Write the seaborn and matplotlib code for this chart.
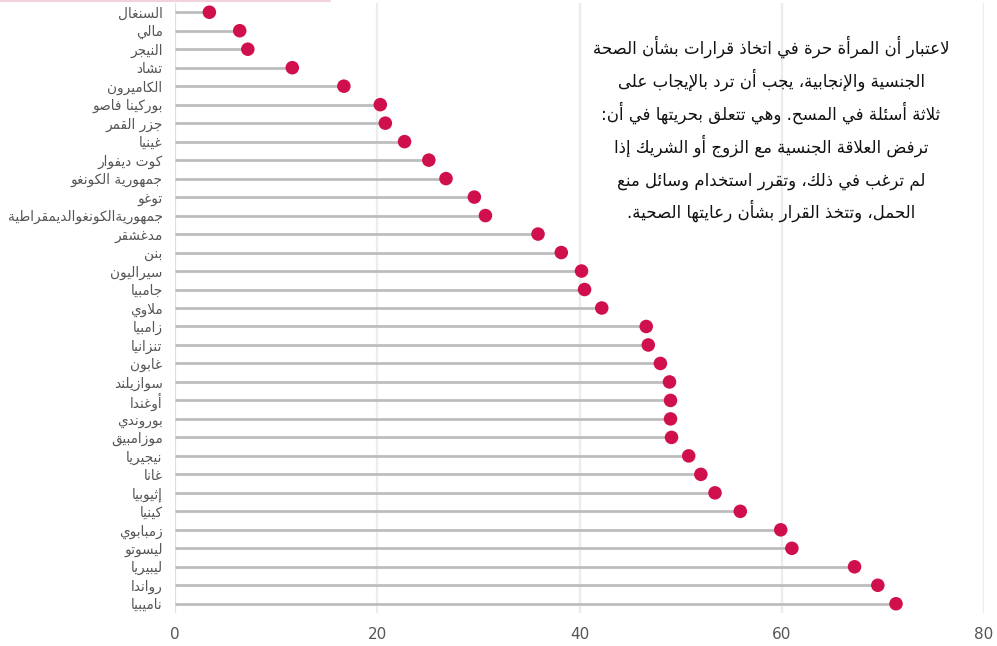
import matplotlib
matplotlib.use("Agg")
import matplotlib.pyplot as plt
from matplotlib.lines import Line2D
import seaborn as sns
import pandas as pd

# Data (percent of women who decide freely)
countries = [
    "السنغال", "مالي", "النيجر", "تشاد", "الكاميرون", "بوركينا فاصو",
    "جزر القمر", "غينيا", "كوت ديفوار", "جمهورية الكونغو", "توغو",
    "جمهوريةالكونغوالديمقراطية", "مدغشقر", "بنن", "سيراليون", "جامبيا",
    "ملاوي", "زامبيا", "تنزانيا", "غابون", "سوازيلند", "أوغندا", "بوروندي",
    "موزامبيق", "نيجيريا", "غانا", "إثيوبيا", "كينيا", "زمبابوي", "ليسوتو",
    "ليبيريا", "رواندا", "ناميبيا",
]
values = [
    3.4, 6.4, 7.2, 11.6, 16.7, 20.3, 20.8, 22.7, 25.1, 26.8, 29.6,
    30.7, 35.9, 38.2, 40.2, 40.5, 42.2, 46.6, 46.8, 48.0, 48.9, 49.0, 49.0,
    49.1, 50.8, 52.0, 53.4, 55.9, 59.9, 61.0, 67.2, 69.5, 71.3,
]
x_ticks = [0, 20, 40, 60, 80]

note = [
    "لاعتبار أن المرأة حرة في اتخاذ قرارات بشأن الصحة",
    "الجنسية والإنجابية، يجب أن ترد بالإيجاب على",
    "ثلاثة أسئلة في المسح. وهي تتعلق بحريتها في أن:",
    "ترفض العلاقة الجنسية مع الزوج أو الشريك إذا",
    "لم ترغب في ذلك، وتقرر استخدام وسائل منع",
    "الحمل، وتتخذ القرار بشأن رعايتها الصحية.",
]

# --- minimal arabic shaping (matplotlib has no complex text layout) ---
FOUR = {"ئ": 0xFE89, "ب": 0xFE8F, "ت": 0xFE95, "ث": 0xFE99, "ج": 0xFE9D,
        "ح": 0xFEA1, "خ": 0xFEA5, "س": 0xFEB1, "ش": 0xFEB5, "ص": 0xFEB9,
        "ض": 0xFEBD, "ط": 0xFEC1, "ظ": 0xFEC5, "ع": 0xFEC9, "غ": 0xFECD,
        "ف": 0xFED1, "ق": 0xFED5, "ك": 0xFED9, "ل": 0xFEDD, "م": 0xFEE1,
        "ن": 0xFEE5, "ه": 0xFEE9, "ي": 0xFEF1}
TWO = {"آ": 0xFE81, "أ": 0xFE83, "ؤ": 0xFE85, "إ": 0xFE87, "ا": 0xFE8D,
       "ة": 0xFE93, "د": 0xFEA9, "ذ": 0xFEAB, "ر": 0xFEAD, "ز": 0xFEAF,
       "و": 0xFEED, "ى": 0xFEEF}
LAMALEF = {"آ": 0xFEF5, "أ": 0xFEF7, "إ": 0xFEF9, "ا": 0xFEFB}


def shape(text):
    # merge lam + alef into one right-joining unit
    units = []
    i = 0
    while i < len(text):
        c = text[i]
        if c == "ل" and i + 1 < len(text) and text[i + 1] in LAMALEF:
            units.append(("LA", text[i + 1]))
            i += 2
        else:
            units.append(("C", c))
            i += 1

    def dual(u):
        return u[0] == "C" and u[1] in FOUR

    def joins(u):
        return u[0] == "LA" or u[1] in FOUR or u[1] in TWO

    out = []
    for k, u in enumerate(units):
        prev_ok = k > 0 and dual(units[k - 1]) and joins(u)
        next_ok = dual(u) and k + 1 < len(units) and joins(units[k + 1])
        if u[0] == "LA":
            out.append(chr(LAMALEF[u[1]] + (1 if prev_ok else 0)))
        elif u[1] in FOUR:
            b = FOUR[u[1]]
            if prev_ok and next_ok:
                out.append(chr(b + 3))
            elif next_ok:
                out.append(chr(b + 2))
            elif prev_ok:
                out.append(chr(b + 1))
            else:
                out.append(chr(b))
        elif u[1] in TWO:
            out.append(chr(TWO[u[1]] + (1 if prev_ok else 0)))
        else:
            out.append(u[1])
    return "".join(out)[::-1]


df = pd.DataFrame({"country": [shape(c) for c in countries], "value": values})
df["pos"] = range(len(df))

sns.set_theme(style="white")
plt.rcParams["font.family"] = ["DejaVu Sans"]

fig = plt.figure(figsize=(9.97, 6.46), dpi=100)
ax = fig.add_axes([175 / 997, 33 / 646, (984 - 175) / 997, 610 / 646])

# vertical gridlines
for t in x_ticks:
    ax.axvline(t, color="#dedede" if t == 0 else "#ececec", lw=1.6, zorder=0)

ax.hlines(df["pos"], 0, df["value"], color="#bdbdbd", lw=2, zorder=1)
sns.scatterplot(data=df, x="value", y="pos", ax=ax, color="#d0104c",
                s=95, edgecolor="none", zorder=3, legend=False)

ax.set_xlim(0, 80)
ax.set_ylim(len(df) - 0.5, -0.5)
ax.set_xticks(x_ticks)
ax.set_xticklabels([str(t) for t in x_ticks])
ax.set_yticks(df["pos"])
ax.set_yticklabels(df["country"])
ax.tick_params(axis="x", length=0, pad=10, labelsize=11, labelcolor="#555555")
ax.tick_params(axis="y", length=0, pad=9, labelsize=9.8, labelcolor="#555555")
ax.set_xlabel("")
ax.set_ylabel("")
sns.despine(ax=ax, left=True, bottom=True)

# note, one line at a time on fixed baselines so the spacing stays even
for i, line in enumerate(note):
    fig.text(771 / 997, 1 - (54 + 32.8 * i) / 646, shape(line), ha="center",
             va="baseline", fontsize=12, color="#111111")

fig.add_artist(Line2D([0, 330 / 997], [0.999, 0.999], color="#f2d3dc", lw=1.5,
                      transform=fig.transFigure))

fig.savefig("out.png", dpi=100)
